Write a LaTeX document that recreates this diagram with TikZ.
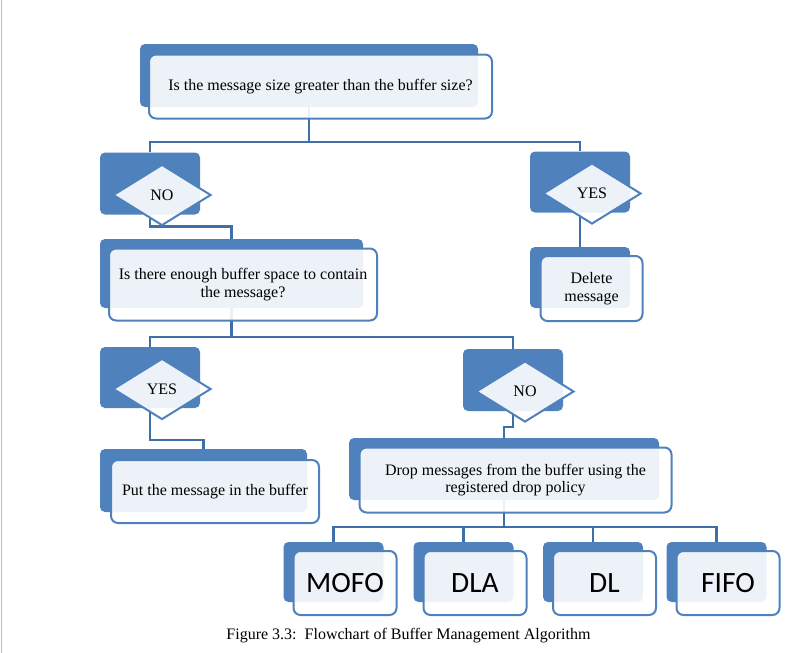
\documentclass[tikz,border=0pt]{standalone}
\usepackage{fontspec}
\setmainfont{Liberation Serif}
\newfontfamily\policyfont{Carlito}
\usetikzlibrary{shapes.geometric}

\definecolor{boxblue}{HTML}{4F81BD}
\definecolor{linkblue}{HTML}{3F6FA8}

\tikzset{
  back/.style={fill=boxblue, rounded corners=5, inner sep=0},
  front/.style={draw=boxblue, line width=2, fill=white, fill opacity=0.9, text opacity=1,
    rounded corners=7, inner sep=0, align=center, shift={(11.5,11)},
    font=\fontsize{16}{17.5}\selectfont},
  choice/.style={diamond, draw=boxblue, line width=2, fill=white, fill opacity=0.9, text opacity=1,
    inner sep=0, minimum width=98, minimum height=61, shift={(12,11.5)},
    font=\fontsize{16}{17.5}\selectfont},
  policy/.style={front, minimum width=103, minimum height=64, font=\policyfont\fontsize{29.5}{32}\selectfont},
  link/.style={draw=linkblue, line width=2.5},
}

\begin{document}
\begin{tikzpicture}[x=1pt, y=-1pt]
\useasboundingbox (0,0) rectangle (812,653);
\draw[gray!50, line width=1] (1,0) -- (1,653);

% back shapes
\node[back, minimum width=338, minimum height=63] (q1) at (309,75.5) {};
\node[back, minimum width=100, minimum height=62] (no1) at (150,183.5) {};
\node[back, minimum width=100, minimum height=61] (yes1) at (580,182) {};
\node[back, minimum width=263, minimum height=69] (q2) at (231.5,273.5) {};
\node[back, minimum width=100, minimum height=61] (del) at (580,277.5) {};
\node[back, minimum width=100, minimum height=61] (yes2) at (150,377.5) {};
\node[back, minimum width=100, minimum height=62] (no2) at (513,380) {};
\node[back, minimum width=207, minimum height=63] (put) at (203.5,480.5) {};
\node[back, minimum width=310, minimum height=62] (drop) at (504,469) {};
\foreach \n/\x in {mofo/333.5, dla/463.5, dl/593, fifo/716.5}
  \node[back, minimum width=100, minimum height=60] (\n) at (\x,572) {};

% connectors
\draw[link] (q1.south) -- ++(0,35) -| (no1.north);
\draw[link] (q1.south) -- ++(0,35) -| (yes1.north);
\draw[link] (no1.south) -- ++(0,12) -| (q2.north);
\draw[link] (yes1.south) -- (del.north);
\draw[link] (q2.south) -- ++(0,29) -| (yes2.north);
\draw[link] (q2.south) -- ++(0,29) -| (no2.north);
\draw[link] (yes2.south) -- ++(0,32) -| (put.north);
\draw[link] (no2.south) -- ++(0,16) -| (drop.north);
\foreach \n in {mofo, dla, dl, fifo}
  \draw[link] (drop.south) -- ++(0,27) -| (\n.north);

% front shapes
\node[front, minimum width=343, minimum height=64] (q1f) at (q1) {Is the message size greater than the buffer size?};
\node[choice] (no1f) at (no1) {NO};
\node[choice] (yes1f) at (yes1) {YES};
\node[front, minimum width=268, minimum height=72] (q2f) at (q2) {Is there enough buffer space to contain\\the message?};
\node[front, minimum width=102, minimum height=65] (delf) at (del) {Delete\\message};
\node[choice] (yes2f) at (yes2) {YES};
\node[choice] (no2f) at (no2) {NO};
\node[front, minimum width=208, minimum height=63] (putf) at (put) {Put the message in the buffer};
\node[front, minimum width=312, minimum height=65] (dropf) at (drop) {Drop messages from the buffer using the\\registered drop policy};
\foreach \n/\t in {mofo/MOFO, dla/DLA, dl/DL, fifo/FIFO}
  \node[policy] (\n f) at (\n) {\t};

\node[font=\fontsize{16}{17.5}\selectfont] (caption) at (408.5,636) {Figure 3.3:\ \ Flowchart of Buffer Management Algorithm};

\end{tikzpicture}
\end{document}
